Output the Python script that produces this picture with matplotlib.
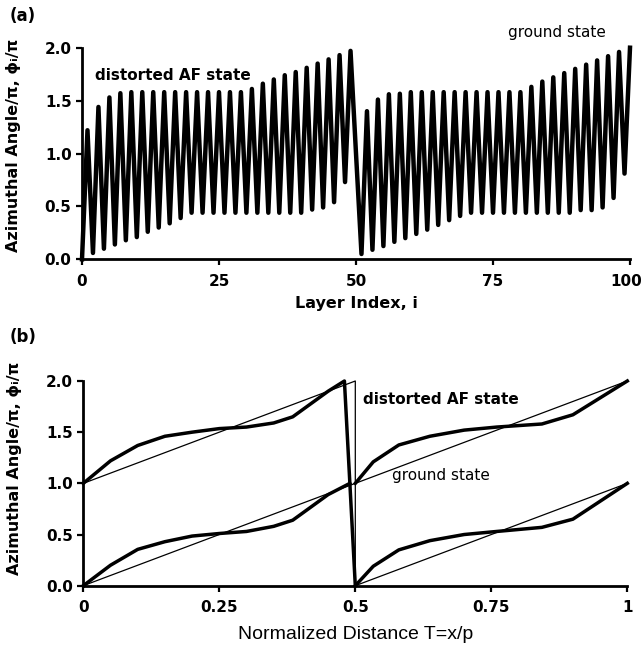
import matplotlib
matplotlib.use("Agg")
import matplotlib.pyplot as plt
import matplotlib.transforms as mtransforms
import numpy as np

plt.rcParams['font.family'] = ['DejaVu Sans']

# ---------------- Panel (a): azimuthal angle per layer ----------------
layer_index = list(range(101))
phi_first_half = [
    0.00, 1.22, 0.06, 1.44, 0.10, 1.53, 0.14, 1.57, 0.18, 1.58,
    0.21, 1.58, 0.26, 1.58, 0.30, 1.58, 0.34, 1.58, 0.39, 1.58,
    0.44, 1.58, 0.44, 1.58, 0.44, 1.58, 0.44, 1.58, 0.44, 1.58,
    0.44, 1.61, 0.44, 1.66, 0.44, 1.70, 0.44, 1.74, 0.44, 1.77,
    0.44, 1.81, 0.47, 1.85, 0.49, 1.89, 0.54, 1.93, 0.73, 1.97,
]
phi_second_half = [
    1.00, 0.05, 1.40, 0.09, 1.51, 0.125, 1.56, 0.165, 1.565, 0.20,
    1.58, 0.24, 1.58, 0.28, 1.58, 0.325, 1.58, 0.37, 1.58, 0.41,
    1.58, 0.44, 1.58, 0.44, 1.58, 0.44, 1.58, 0.44, 1.58, 0.44,
    1.58, 0.44, 1.63, 0.44, 1.68, 0.44, 1.72, 0.44, 1.76, 0.44,
    1.80, 0.465, 1.84, 0.465, 1.88, 0.49, 1.92, 0.58, 1.96, 0.81,
    2.00,
]
phi_layers = phi_first_half + phi_second_half

xticks_a = [0, 25, 50, 75, 100]
xticklabels_a = ['0', '25', '50', '75', '100']
yticks = [0.0, 0.5, 1.0, 1.5, 2.0]
yticklabels = ['0.0', '0.5', '1.0', '1.5', '2.0']

# ---------------- Panel (b): angle vs normalized distance ----------------
T_first_lower = [0, 0.05, 0.10, 0.15, 0.20, 0.25, 0.30, 0.35, 0.385, 0.45, 0.49]
phi_first_lower = [0, 0.20, 0.355, 0.43, 0.485, 0.51, 0.53, 0.58, 0.64, 0.89, 1.0]
T_first_upper = [0, 0.05, 0.10, 0.15, 0.20, 0.25, 0.30, 0.35, 0.385, 0.45, 0.48, 0.50]
phi_first_upper = [1.0, 1.22, 1.37, 1.46, 1.50, 1.535, 1.55, 1.59, 1.65, 1.90, 2.0, 0.0]
T_second = [0.5, 0.533, 0.58, 0.637, 0.70, 0.76, 0.843, 0.90, 1.0]
phi_second_lower = [0, 0.19, 0.35, 0.44, 0.50, 0.53, 0.57, 0.65, 1.0]
phi_second_upper = [1.0, 1.21, 1.375, 1.46, 1.52, 1.55, 1.58, 1.67, 2.0]

T_ground_a = [0, 0.5, 1.0]
phi_ground_a = [0, 1, 2]
T_ground_b = [0, 0.5, 0.5, 1.0]
phi_ground_b = [1, 2, 0, 1]

xticks_b = [0, 0.25, 0.5, 0.75, 1.0]
xticklabels_b = ['0', '0.25', '0.5', '0.75', '1']

W, H = 643, 654
fig = plt.figure(figsize=(W / 100, H / 100), dpi=100)

def style_axes(ax):
    for s in ['top', 'right']:
        ax.spines[s].set_visible(False)
    for s in ['left', 'bottom']:
        ax.spines[s].set_linewidth(2.0)
    ax.tick_params(direction='out', length=4, width=1.6, labelsize=11)
    ax.tick_params(axis='x', pad=6.5)
    ax.tick_params(axis='y', pad=3.5)
    for lab in ax.get_xticklabels() + ax.get_yticklabels():
        lab.set_fontweight('bold')

ylabel = 'Azimuthal Angle/π, ϕᵢ/π'

# Panel (a)
axa = fig.add_axes([82 / W, 1 - 259.3 / H, (630 - 82) / W, (259.3 - 47.7) / H])
axa.plot(layer_index, phi_layers, color='black', lw=3.2, clip_on=False,
         solid_joinstyle='round')
axa.set_xlim(0, 100)
axa.set_ylim(0, 2.0)
axa.set_xticks(xticks_a)
axa.set_xticklabels(xticklabels_a)
axa.set_yticks(yticks)
axa.set_yticklabels(yticklabels)
style_axes(axa)
last = axa.get_xticklabels()[-1]
last.set_transform(last.get_transform() +
                   mtransforms.ScaledTranslation(-4 / 100, 0, fig.dpi_scale_trans))
axa.set_xlabel('Layer Index, i', fontsize=11.5, fontweight='bold', labelpad=5)
axa.set_ylabel(ylabel, fontsize=11.5, fontweight='bold')
axa.yaxis.set_label_coords((21 - 82) / 548, 0.538)
axa.text(2.4, 1.74, 'distorted AF state', fontsize=11, fontweight='bold',
         va='center', ha='left')
axa.text(77.7, 2.14, 'ground state', fontsize=11, va='center', ha='left',
         clip_on=False)
fig.text(10 / W, 1 - 16 / H, '(a)', fontsize=12, fontweight='bold', va='center')

# Panel (b)
axb = fig.add_axes([83.3 / W, 1 - 585.7 / H, 544 / W, (585.7 - 381) / H])
axb.plot(T_ground_a, phi_ground_a, color='black', lw=0.9, clip_on=False)
axb.plot(T_ground_b, phi_ground_b, color='black', lw=0.9, clip_on=False)
axb.plot(T_first_lower, phi_first_lower, color='black', lw=2.5, clip_on=False)
axb.plot(T_first_upper, phi_first_upper, color='black', lw=2.5, clip_on=False)
axb.plot(T_second, phi_second_lower, color='black', lw=2.5, clip_on=False)
axb.plot(T_second, phi_second_upper, color='black', lw=2.5, clip_on=False)
axb.set_xlim(0, 1.0)
axb.set_ylim(0, 2.0)
axb.set_xticks(xticks_b)
axb.set_xticklabels(xticklabels_b)
axb.set_yticks(yticks)
axb.set_yticklabels(yticklabels)
style_axes(axb)
axb.set_xlabel('Normalized Distance T=x/p', fontsize=14, family='Liberation Sans',
               labelpad=8)
axb.set_ylabel(ylabel, fontsize=11.5, fontweight='bold')
axb.yaxis.set_label_coords((22 - 83.3) / 544, 0.575)
axb.text(0.515, 1.815, 'distorted AF state', fontsize=11, fontweight='bold',
         va='center', ha='left')
axb.text(0.567, 1.08, 'ground state', fontsize=11, va='center', ha='left')
fig.text(10 / W, 1 - 337 / H, '(b)', fontsize=12, fontweight='bold', va='center')

fig.savefig('out.png', dpi=100)
